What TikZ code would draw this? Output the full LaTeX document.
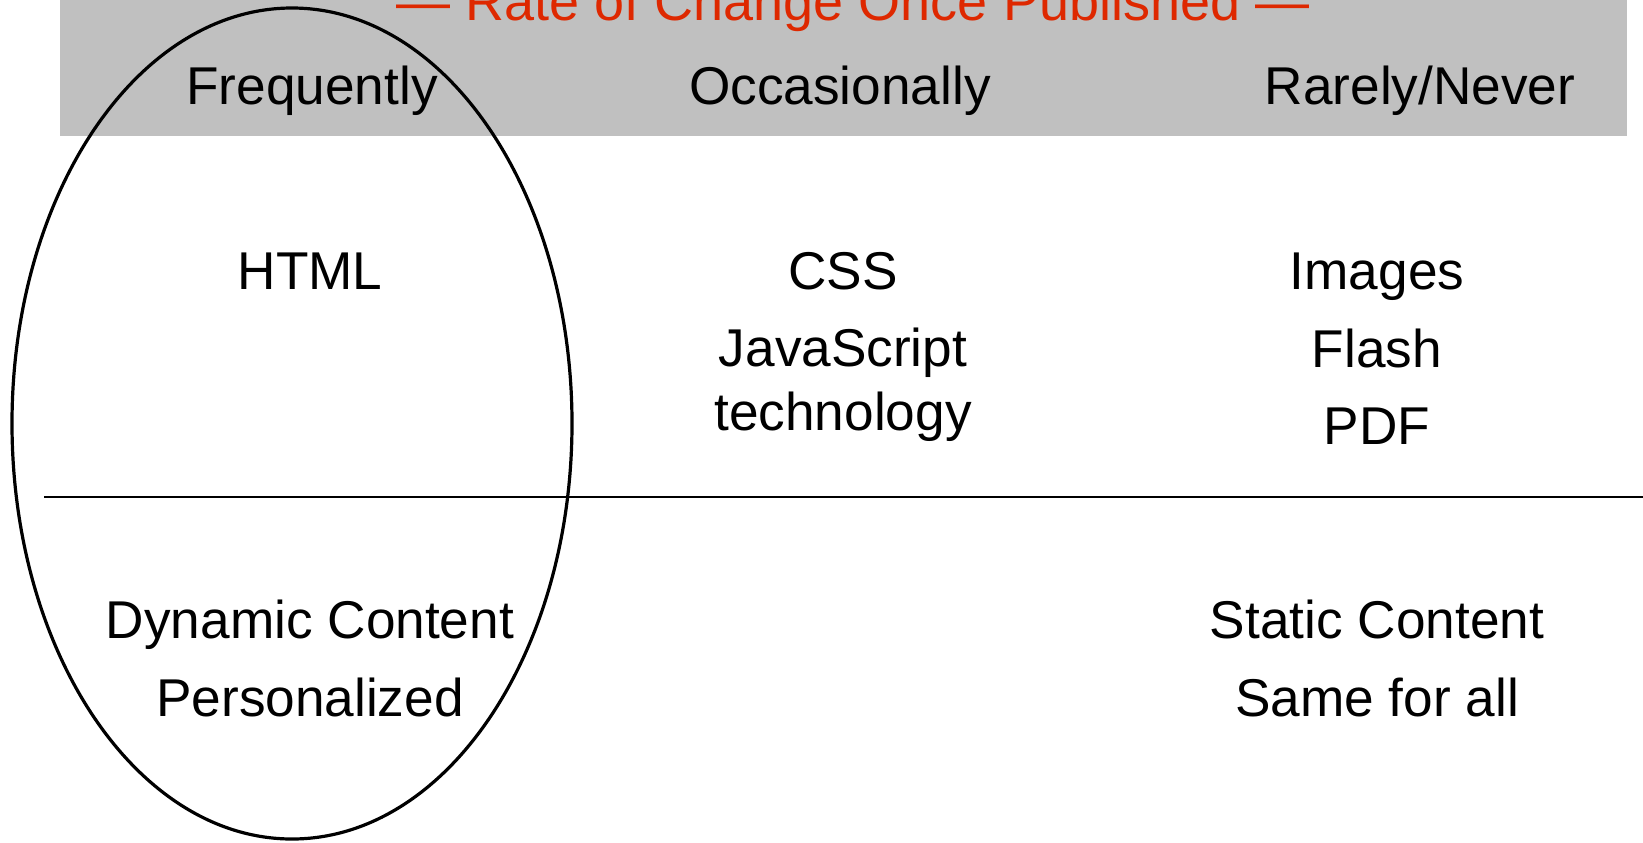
\documentclass[tikz,border=0pt]{standalone}
\usepackage{fontspec}
\setmainfont{Liberation Sans}
\definecolor{band}{RGB}{192,192,192}
\definecolor{titlered}{RGB}{222,40,0}
\begin{document}
\begin{tikzpicture}[x=0.5pt,y=-0.5pt,
  lbl/.style={anchor=base,inner sep=0pt,font=\fontsize{26.6pt}{30pt}\selectfont,text=black},
  ttl/.style={lbl,font=\fontsize{27pt}{30pt}\selectfont,text=titlered}]
\useasboundingbox (0,0) rectangle (1643,842);
\fill[band] (60,0) rectangle (1627,136);
% title and headers
\node[ttl] (title) at (853,20) {— Rate of Change Once Published —};
\node[lbl] (freq) at (312,104) {Frequently};
\node[lbl] (occ) at (840,104) {Occasionally};
\node[lbl] (rare) at (1420,104) {Rarely/Never};
% body
\node[lbl] (html) at (310,289) {HTML};
\node[lbl] (css) at (843,289) {CSS};
\node[lbl] (js) at (843,366) {JavaScript};
\node[lbl] (tech) at (843,430) {technology};
\node[lbl] (img) at (1377,289) {Images};
\node[lbl] (flash) at (1377,367) {Flash};
\node[lbl] (pdf) at (1377,444) {PDF};
\node[lbl] (dyn) at (310,638) {Dynamic Content};
\node[lbl] (pers) at (310,716) {Personalized};
\node[lbl] (stat) at (1377,638) {Static Content};
\node[lbl] (same) at (1377,716) {Same for all};
% divider
\coordinate (divL) at (44,497);
\coordinate (divR) at (1643,497);
\draw[line width=1.35pt] (divL) -- (divR);
% ellipse
\draw[line width=1.6pt] (292,423.5) ellipse [x radius=280, y radius=415.5];
\end{tikzpicture}
\end{document}
